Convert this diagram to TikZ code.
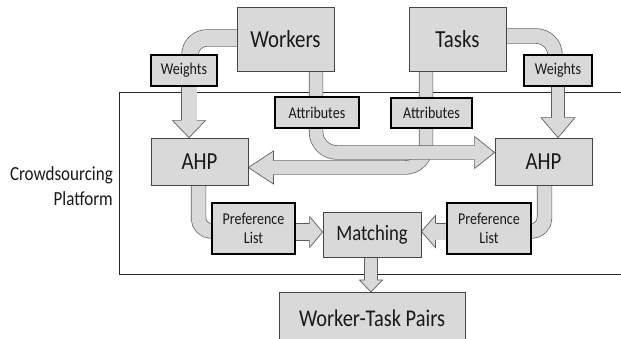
\documentclass[tikz,border=0pt]{standalone}
\usepackage{fontspec}
\setmainfont{Carlito}[FakeStretch=0.85]
\usetikzlibrary{calc}
\definecolor{fillc}{RGB}{217,217,217}
\definecolor{edgec}{RGB}{95,95,95}
\definecolor{boxedge}{RGB}{70,70,70}
\definecolor{txt}{RGB}{25,25,25}
\pgfdeclarelayer{bg}
\pgfdeclarelayer{bands}
\pgfsetlayers{bg,bands,main}
\newcommand\bandpath[2]{%
  \draw[line width=#1pt+1.4pt, draw=edgec] #2;
  \draw[line width=#1pt, draw=fillc] #2;}
\newcommand\headat[5]{%
  \begin{scope}[shift={#1}, rotate=#2]
    \fill[fillc] (-0.8,{#4/2}) -- (0,{#4/2}) -- (0,#5) -- (#3,0) -- (0,-#5) -- (0,{-#4/2}) -- (-0.8,{-#4/2}) -- cycle;
    \draw[edgec, line width=0.7pt, line join=miter] (0,{#4/2+0.35}) -- (0,#5) -- (#3,0) -- (0,-#5) -- (0,{-#4/2-0.35});
  \end{scope}}
\begin{document}
\begin{tikzpicture}[x=1pt,y=-1pt,
  bigbox/.style={draw=boxedge, line width=0.8pt, fill=fillc, inner sep=0pt, text=txt, font=\fontsize{24.5}{28}\selectfont},
  smallbox/.style={draw=black, line width=1.6pt, fill=fillc, inner sep=0pt, text=txt, align=center, font=\fontsize{16.5}{19}\selectfont}]
\useasboundingbox (0,0) rectangle (621,338);
\clip (0,0) rectangle (621,338);

% nodes
\node[bigbox, minimum width=97pt, minimum height=64pt] (workers) at (285.5,39) {Workers};
\node[bigbox, minimum width=97pt, minimum height=64pt] (tasks) at (457.5,39) {Tasks};
\node[smallbox, minimum width=66pt, minimum height=31pt] (wl) at (184,70.5) {Weights};
\node[smallbox, minimum width=68pt, minimum height=31pt] (wr) at (558,70.5) {Weights};
\node[smallbox, minimum width=84pt, minimum height=31pt] (al) at (317,112.5) {Attributes};
\node[smallbox, minimum width=81pt, minimum height=30pt] (ar) at (431.5,113) {Attributes};
\node[bigbox, minimum width=97pt, minimum height=47pt] (ahpl) at (199.5,161.5) {AHP};
\node[bigbox, minimum width=97pt, minimum height=47pt] (ahpr) at (543.5,161.5) {AHP};
\node[smallbox, minimum width=83pt, minimum height=51pt] (pl) at (253.5,228.5) {Preference\\List};
\node[smallbox, minimum width=84pt, minimum height=51pt] (pr) at (489,228.5) {Preference\\List};
\node[bigbox, minimum width=98pt, minimum height=45pt, font=\fontsize{22}{26}\selectfont] (match) at (372,234.5) {Matching};
\node[bigbox, minimum width=186pt, minimum height=52pt, anchor=north, font=\fontsize{24}{28}\selectfont] (wtp) at (372,292) {Worker-Task Pairs};
\node[font=\fontsize{20}{25}\selectfont, align=right, text=txt, inner sep=0pt, anchor=east] (plat) at (113,186) {Crowdsourcing\\Platform};

\begin{pgfonlayer}{bg}
  \node[draw=black!85, line width=0.8pt, minimum width=515pt, minimum height=182pt, inner sep=0pt, anchor=north west] (platform) at (119,92) {};
\end{pgfonlayer}

\begin{pgfonlayer}{bands}
  % Tasks -> Attributes -> left AHP
  \coordinate (t0) at ($(ar.north)+(-5.5,0)$);
  \coordinate (tc) at ($(t0 |- ahpl.center)+(0,6)$);
  \coordinate (tb) at ($(ahpl.east |- tc)+(25,0)$);
  \bandpath{13}{[rounded corners=21pt] ($(t0 |- tasks.south)+(0,-2)$) -- (tc) -- (tb)}
  \headat{(tb)}{180}{25}{13}{16.5}
  % Workers -> Attributes -> right AHP
  \coordinate (w0) at ($(al.north)+(-1,0)$);
  \coordinate (wc) at ($(w0 |- ahpr.center)+(0,-9)$);
  \coordinate (wb) at ($(ahpr.west |- wc)+(-20,0)$);
  \bandpath{13}{[rounded corners=21pt] ($(w0 |- workers.south)+(0,-2)$) -- (wc) -- (wb)}
  \headat{(wb)}{0}{20}{13}{16}
  % Workers -> Weights
  \coordinate (f1) at ($(workers.west)+(2,-1)$);
  \coordinate (f2) at ($(wl.north)+(6,2)$);
  \bandpath{16}{[rounded corners=17pt] (f1) -- (f1 -| f2) -- (f2)}
  % Tasks -> Weights
  \coordinate (g1) at ($(tasks.east)+(-2,-3)$);
  \coordinate (g2) at ($(wr.north)+(-3,2)$);
  \bandpath{14}{[rounded corners=19pt] (g1) -- (g1 -| g2) -- (g2)}
  % Weights -> AHP
  \coordinate (a1) at ($(wl.south)+(5,-2)$);
  \coordinate (a2) at ($(ahpl.north -| a1)+(0,-17)$);
  \bandpath{15}{(a1) -- (a2)}
  \headat{(a2)}{-90}{17}{15}{16.5}
  \coordinate (b1) at ($(wr.south)+(0,-2)$);
  \coordinate (b2) at ($(ahpr.north -| b1)+(0,-20)$);
  \bandpath{12}{(b1) -- (b2)}
  \headat{(b2)}{-90}{20}{12}{17}
  % AHP -> Preference List
  \coordinate (i1) at ($(ahpl.south)+(-1,-2)$);
  \coordinate (i2) at ($(pl.west)+(2,2.5)$);
  \bandpath{14}{[rounded corners=13pt] (i1) -- (i1 |- i2) -- (i2)}
  \coordinate (j1) at ($(ahpr.south)+(1,-2)$);
  \coordinate (j2) at ($(pr.east)+(-2,2.5)$);
  \bandpath{14}{[rounded corners=13pt] (j1) -- (j1 |- j2) -- (j2)}
  % Preference List -> Matching
  \coordinate (d1) at ($(pl.east)+(-2,3.5)$);
  \coordinate (d2) at ($(match.west |- d1)+(-13,0)$);
  \bandpath{16}{(d1) -- (d2)}
  \headat{(d2)}{0}{13}{16}{15.5}
  \coordinate (e1) at ($(pr.west)+(2,3)$);
  \coordinate (e2) at ($(match.east |- e1)+(14,0)$);
  \bandpath{16}{(e1) -- (e2)}
  \headat{(e2)}{180}{14}{16}{16}
  % Matching -> Worker-Task Pairs
  \coordinate (c1) at ($(match.south)+(-1,-2)$);
  \coordinate (c2) at ($(wtp.north -| c1)+(0,-12)$);
  \bandpath{12}{(c1) -- (c2)}
  \headat{(c2)}{-90}{12}{12}{11.5}
\end{pgfonlayer}
\end{tikzpicture}
\end{document}
